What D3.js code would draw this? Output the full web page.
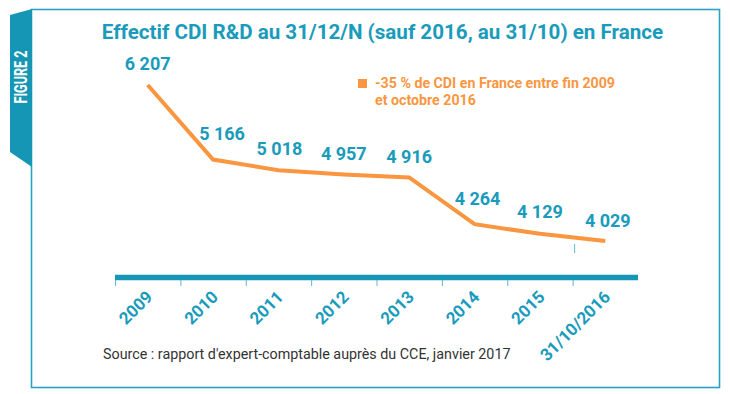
<!DOCTYPE html>
<html>
<head>
<meta charset="utf-8">
<script src="https://cdn.jsdelivr.net/npm/d3@7"></script>
<style>
  body { margin: 0; background: #fff; }
  svg { display: block; font-family: Roboto, "Open Sans", sans-serif; }
</style>
</head>
<body>
<div id="chart"></div>
<script>
// data
const years = ["2009", "2010", "2011", "2012", "2013", "2014", "2015", "31/10/2016"];
const effectif = [6207, 5166, 5018, 4957, 4916, 4264, 4129, 4029];
const valueLabels = ["6 207", "5 166", "5 018", "4 957", "4 916", "4 264", "4 129", "4 029"];

const title = "Effectif CDI R&D au 31/12/N (sauf 2016, au 31/10) en France";
const noteLines = ["-35 % de CDI en France entre fin 2009", "et octobre 2016"];
const source = "Source : rapport d'expert-comptable auprès du CCE, janvier 2017";

const teal = "#1a9bbb";
const tealDark = "#1596b4";
const orange = "#f9963f";

const width = 730, height = 394;

const svg = d3.select("#chart")
  .append("svg")
  .attr("width", width)
  .attr("height", height);

// frame
svg.append("rect")
  .attr("x", 31.5).attr("y", 9.5)
  .attr("width", 688).attr("height", 378)
  .attr("fill", "none")
  .attr("stroke", "#2aa3c2")
  .attr("stroke-width", 1.6);

// "FIGURE 2" tab on the left
svg.append("path")
  .attr("d", "M10,15 L32,9 L32,167 L10,152 Z")
  .attr("fill", tealDark);

svg.append("text")
  .attr("transform", "translate(27,77) rotate(-90)")
  .attr("text-anchor", "middle")
  .attr("fill", "#fff")
  .attr("font-size", 18)
  .attr("font-weight", 700)
  .attr("textLength", 53)
  .attr("lengthAdjust", "spacingAndGlyphs")
  .text("FIGURE 2");

// title
svg.append("text")
  .attr("x", 382.5).attr("y", 39)
  .attr("text-anchor", "middle")
  .attr("fill", teal)
  .attr("font-size", 20.6)
  .attr("font-weight", 700)
  .text(title);

// scales
const x = d3.scaleBand().domain(years).range([115, 638]).padding(0);
const y = d3.scaleLinear().domain([3500, 6500]).range([278.9, 64]);
const cx = (d) => x(d) + x.bandwidth() / 2;

// axis bar
svg.append("line")
  .attr("x1", x.range()[0]).attr("x2", x.range()[1])
  .attr("y1", 277.5).attr("y2", 277.5)
  .attr("stroke", tealDark)
  .attr("stroke-width", 5.5);

// ticks at band starts
svg.selectAll("line.tick")
  .data(years)
  .enter()
  .append("line")
  .attr("class", "tick")
  .attr("x1", (d) => x(d) + 0.5).attr("x2", (d) => x(d) + 0.5)
  .attr("y1", 280).attr("y2", 286)
  .attr("stroke", "#5fb8cf")
  .attr("stroke-width", 1);

// stray small mark above last tick
svg.append("line")
  .attr("x1", x(years[7]) + 2).attr("x2", x(years[7]) + 2)
  .attr("y1", 244).attr("y2", 253)
  .attr("stroke", "#5fb8cf")
  .attr("stroke-width", 1);

// rotated category labels
svg.selectAll("text.cat")
  .data(years)
  .enter()
  .append("text")
  .attr("class", "cat")
  .attr("transform", (d) => "translate(" + (cx(d) + 6) + ",298) rotate(-45)")
  .attr("text-anchor", "end")
  .attr("fill", teal)
  .attr("font-size", 17)
  .attr("font-weight", 700)
  .text((d) => d);

// line
const line = d3.line()
  .x((d, i) => cx(years[i]))
  .y((d) => y(d));

svg.append("path")
  .datum(effectif)
  .attr("d", line)
  .attr("fill", "none")
  .attr("stroke", orange)
  .attr("stroke-width", 4)
  .attr("stroke-linejoin", "miter");

// value labels, with small nudges where the picture moves them
const nudge = [[0, -15], [9, -20], [1, -15], [0, -14.5], [0, -14.5], [3, -19], [0, -16], [2.5, -14]];

svg.selectAll("text.val")
  .data(effectif)
  .enter()
  .append("text")
  .attr("class", "val")
  .attr("x", (d, i) => cx(years[i]) + nudge[i][0])
  .attr("y", (d, i) => y(d) + nudge[i][1])
  .attr("text-anchor", "middle")
  .attr("fill", teal)
  .attr("font-size", 18)
  .attr("font-weight", 700)
  .text((d, i) => valueLabels[i]);

// orange note with square marker
svg.append("rect")
  .attr("x", 358).attr("y", 79)
  .attr("width", 9).attr("height", 9)
  .attr("fill", orange);

svg.selectAll("text.note")
  .data(noteLines)
  .enter()
  .append("text")
  .attr("class", "note")
  .attr("x", 375)
  .attr("y", (d, i) => 88 + i * 17)
  .attr("fill", orange)
  .attr("font-size", 14.2)
  .attr("font-weight", 700)
  .text((d) => d);

// source
svg.append("text")
  .attr("x", 103).attr("y", 359)
  .attr("fill", "#333")
  .attr("font-size", 14.3)
  .text(source);
</script>
</body>
</html>
